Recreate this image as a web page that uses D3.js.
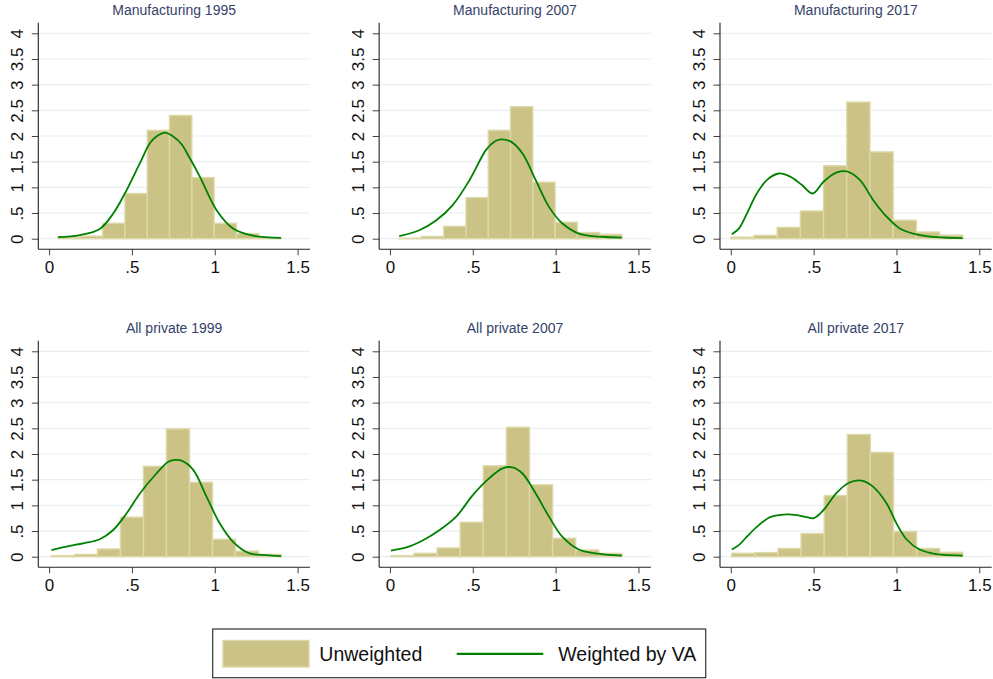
<!DOCTYPE html>
<html>
<head>
<meta charset="utf-8">
<script src="https://cdn.jsdelivr.net/npm/d3@7"></script>
<style>
  html, body { margin: 0; padding: 0; background: #ffffff; }
  svg { display: block; font-family: "Liberation Sans", Arial, sans-serif; }
</style>
</head>
<body>
<svg id="chart" width="993" height="679"></svg>
<script>
// ---------- DATA ----------
const titles = ["Manufacturing 1995", "Manufacturing 2007", "Manufacturing 2017",
                "All private 1999", "All private 2007", "All private 2017"];
const binStart = [0.054, 0.056, 0.0, 0.014, 0.006, 0.006];
const binEnd   = [1.40, 1.40, 1.40, 1.403, 1.40, 1.40];
const barHeights = [
  [0.03, 0.05, 0.30, 0.88, 2.11, 2.40, 1.19, 0.30, 0.10, 0.02],
  [0.01, 0.045, 0.24, 0.80, 2.11, 2.57, 1.10, 0.32, 0.12, 0.085],
  [0.03, 0.065, 0.22, 0.54, 1.42, 2.66, 1.69, 0.36, 0.13, 0.07],
  [0.02, 0.045, 0.15, 0.77, 1.76, 2.49, 1.45, 0.34, 0.11, 0.045],
  [0.02, 0.065, 0.17, 0.67, 1.77, 2.52, 1.40, 0.36, 0.13, 0.065],
  [0.065, 0.08, 0.16, 0.45, 1.19, 2.38, 2.03, 0.49, 0.16, 0.085]
];
const curveX = [
  [0.054, 0.185, 0.306, 0.387, 0.457, 0.548, 0.608, 0.648, 0.699, 0.749, 0.80, 0.83, 0.91, 1.01, 1.11, 1.23, 1.40],
  [0.056, 0.18, 0.28, 0.38, 0.48, 0.58, 0.63, 0.672, 0.73, 0.80, 0.88, 0.96, 1.04, 1.14, 1.26, 1.40],
  [0.006, 0.05, 0.097, 0.157, 0.217, 0.288, 0.358, 0.428, 0.495, 0.56, 0.64, 0.70, 0.78, 0.86, 0.94, 1.02, 1.12, 1.24, 1.40],
  [0.014, 0.125, 0.205, 0.306, 0.387, 0.467, 0.548, 0.648, 0.72, 0.765, 0.80, 0.87, 0.95, 1.03, 1.11, 1.21, 1.31, 1.40],
  [0.006, 0.10, 0.20, 0.30, 0.40, 0.50, 0.60, 0.68, 0.74, 0.80, 0.88, 0.96, 1.04, 1.14, 1.24, 1.40],
  [0.006, 0.05, 0.097, 0.157, 0.237, 0.318, 0.40, 0.458, 0.50, 0.56, 0.64, 0.72, 0.79, 0.86, 0.94, 1.00, 1.06, 1.14, 1.24, 1.40]
];
const curveY = [
  [0.03, 0.07, 0.19, 0.49, 0.88, 1.47, 1.86, 1.99, 2.065, 1.99, 1.84, 1.68, 1.21, 0.56, 0.20, 0.06, 0.015],
  [0.05, 0.17, 0.36, 0.66, 1.14, 1.73, 1.89, 1.935, 1.89, 1.66, 1.14, 0.62, 0.30, 0.10, 0.04, 0.02],
  [0.085, 0.20, 0.49, 0.88, 1.14, 1.27, 1.21, 1.05, 0.88, 1.11, 1.29, 1.31, 1.14, 0.75, 0.43, 0.20, 0.085, 0.03, 0.01],
  [0.13, 0.21, 0.26, 0.34, 0.52, 0.84, 1.23, 1.62, 1.85, 1.885, 1.87, 1.69, 1.17, 0.65, 0.29, 0.065, 0.03, 0.013],
  [0.12, 0.18, 0.32, 0.52, 0.78, 1.20, 1.53, 1.72, 1.74, 1.62, 1.23, 0.78, 0.39, 0.14, 0.065, 0.02],
  [0.14, 0.23, 0.39, 0.58, 0.77, 0.82, 0.81, 0.77, 0.75, 0.91, 1.25, 1.45, 1.48, 1.36, 1.04, 0.65, 0.34, 0.14, 0.05, 0.02]
];
const xTicks = [0, 0.5, 1, 1.5];
const yTicks = [0, 0.5, 1, 1.5, 2, 2.5, 3, 3.5, 4];
const legendLabels = ["Unweighted", "Weighted by VA"];

// ---------- STYLE / LAYOUT ----------
const barFill = "#cbc386", barStroke = "#ddd8a8", lineColor = "#008000";
const gridColor = "#e9eff1", titleColor = "#35426a";
const fmt = d => d === 0 ? "0" : String(d).replace(/^0\./, ".");

const svg = d3.select("#chart");

titles.forEach((title, i) => {
  const col = i % 3, row = Math.floor(i / 3);
  const left = 38.3 + col * 340.85;
  const right = left + 271.7;
  const dy = row * 318;
  const x = d3.scaleLinear().domain([0, 1.5]).range([left + 10.8, left + 259.3]);
  const y = d3.scaleLinear().domain([0, 4]).range([238.7 + dy, 33.3 + dy]);
  const top = 22.7 + dy, bottom = 249.3 + dy;
  const g = svg.append("g");

  // gridlines
  g.selectAll("line.grid").data(yTicks).join("line")
    .attr("x1", left).attr("x2", right)
    .attr("y1", d => y(d)).attr("y2", d => y(d))
    .attr("stroke", gridColor).attr("stroke-width", 1.2);

  // bars
  const n = barHeights[i].length;
  const w = (binEnd[i] - binStart[i]) / n;
  g.selectAll("rect.bar").data(barHeights[i]).join("rect")
    .attr("x", (d, k) => x(binStart[i] + k * w))
    .attr("width", (d, k) => x(binStart[i] + (k + 1) * w) - x(binStart[i] + k * w))
    .attr("y", d => y(d))
    .attr("height", d => y(0) - y(d))
    .attr("fill", barFill).attr("stroke", barStroke).attr("stroke-width", 1.4);

  // curve
  const pts = curveX[i].map((v, k) => [v, curveY[i][k]]);
  g.append("path")
    .attr("d", d3.line().x(d => x(d[0])).y(d => y(d[1])).curve(d3.curveCatmullRom.alpha(0.5))(pts))
    .attr("fill", "none").attr("stroke", lineColor).attr("stroke-width", 1.8);

  // y axis
  const ya = g.append("g").attr("transform", `translate(${left},0)`)
    .call(d3.axisLeft(y).tickValues(yTicks).tickFormat(fmt).tickSize(6.5).tickSizeOuter(0));
  ya.select(".domain").remove();
  ya.selectAll(".tick line").attr("stroke", "#444");
  ya.selectAll(".tick text")
    .attr("x", null).attr("dy", null).attr("y", null)
    .attr("transform", "translate(-15.4,0) rotate(-90)")
    .attr("text-anchor", "middle")
    .attr("font-size", 17).attr("fill", "#111")
    .attr("font-family", "'Liberation Sans', Arial, sans-serif");
  g.append("line").attr("x1", left).attr("x2", left).attr("y1", top).attr("y2", bottom)
    .attr("stroke", "#222").attr("stroke-width", 1.1);

  // x axis
  const xa = g.append("g").attr("transform", `translate(0,${bottom})`)
    .call(d3.axisBottom(x).tickValues(xTicks).tickFormat(fmt).tickSize(6).tickSizeOuter(0));
  xa.select(".domain").remove();
  xa.selectAll(".tick line").attr("stroke", "#444");
  xa.selectAll(".tick text")
    .attr("y", 12)
    .attr("font-size", 17).attr("fill", "#111")
    .attr("font-family", "'Liberation Sans', Arial, sans-serif");
  g.append("line").attr("x1", left).attr("x2", right).attr("y1", bottom).attr("y2", bottom)
    .attr("stroke", "#222").attr("stroke-width", 1.1);

  // title
  g.append("text").attr("x", (left + right) / 2).attr("y", 15 + dy)
    .attr("text-anchor", "middle").attr("font-size", 14).attr("fill", titleColor)
    .text(title);
});

// legend
const lg = svg.append("g");
lg.append("rect").attr("x", 212.7).attr("y", 629).attr("width", 493).attr("height", 48.7)
  .attr("fill", "#fff").attr("stroke", "#333").attr("stroke-width", 1.2);
lg.append("rect").attr("x", 223).attr("y", 640.5).attr("width", 86).attr("height", 26.5)
  .attr("fill", barFill).attr("stroke", barStroke).attr("stroke-width", 1.4);
lg.append("text").attr("x", 319.3).attr("y", 661).attr("font-size", 19.5).attr("fill", "#111")
  .text(legendLabels[0]);
lg.append("line").attr("x1", 456.7).attr("x2", 543.3).attr("y1", 653.8).attr("y2", 653.8)
  .attr("stroke", lineColor).attr("stroke-width", 2.2);
lg.append("text").attr("x", 558.3).attr("y", 661).attr("font-size", 19.5).attr("fill", "#111")
  .text(legendLabels[1]);
</script>
</body>
</html>
